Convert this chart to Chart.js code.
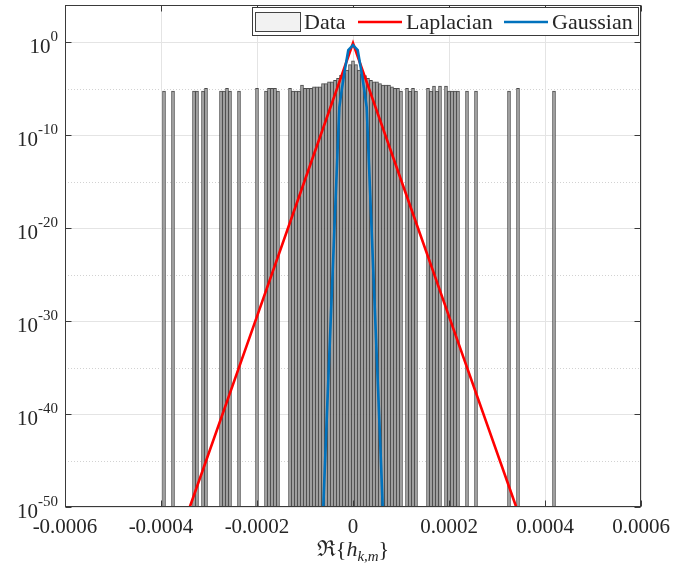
<!DOCTYPE html>
<html>
<head>
<meta charset="utf-8">
<script src="https://cdn.jsdelivr.net/npm/chart.js@4/dist/chart.umd.min.js"></script>
<style>
  html, body { margin: 0; padding: 0; background: #fff; }
</style>
</head>
<body>
<canvas id="histChart" width="696" height="564"></canvas>
<script>
// histogram of Re{h_km}: bin centres and normalised heights
var binCentres = [
  -393.75e-6, -375e-6, -331.25e-6, -325e-6, -312.5e-6, -306.25e-6,
  -275e-6, -268.75e-6, -262.5e-6, -256.25e-6, -237.5e-6, -200e-6,
  -181.25e-6, -175e-6, -168.75e-6, -162.5e-6, -156.25e-6,
  -131.25e-6, -125e-6, -118.75e-6, -112.5e-6, -106.25e-6, -100e-6,
  -93.75e-6, -87.5e-6, -81.25e-6, -75e-6, -68.75e-6, -62.5e-6,
  -56.25e-6, -50e-6, -43.75e-6, -37.5e-6, -31.25e-6, -25e-6,
  -18.75e-6, -12.5e-6, -6.25e-6, 0, 6.25e-6, 12.5e-6,
  18.75e-6, 25e-6, 31.25e-6, 37.5e-6, 43.75e-6, 50e-6,
  56.25e-6, 62.5e-6, 68.75e-6, 75e-6, 81.25e-6, 87.5e-6,
  93.75e-6, 100e-6, 112.5e-6, 118.75e-6, 125e-6, 131.25e-6,
  156.25e-6, 162.5e-6, 168.75e-6, 175e-6, 181.25e-6,
  193.75e-6, 200e-6, 206.25e-6, 212.5e-6, 218.75e-6,
  237.5e-6, 256.25e-6, 325e-6, 343.75e-6, 418.75e-6
];
var binHeights = [
  5.4e-6, 5.4e-6, 5.4e-6, 5.4e-6, 5.4e-6, 1.1e-5,
  5.4e-6, 5.4e-6, 1.1e-5, 5.4e-6, 5.4e-6, 1.1e-5,
  5.4e-6, 1.1e-5, 1.1e-5, 1.1e-5, 5.4e-6,
  1.1e-5, 5.4e-6, 5.4e-6, 5.4e-6, 2.4e-5, 1.1e-5,
  1.1e-5, 1.1e-5, 1.6e-5, 1.6e-5, 1.6e-5, 3.6e-5,
  3.6e-5, 5.4e-5, 5.4e-5, 7.9e-5, 1.3e-4, 2.8e-4,
  5e-4, 1e-3, 4e-3, 1e-2, 4e-3, 1e-3,
  4e-4, 2.5e-4, 1.3e-4, 7.9e-5, 5.4e-5, 5.4e-5,
  3.6e-5, 2.4e-5, 2.4e-5, 2.4e-5, 1.6e-5, 1.1e-5,
  1.1e-5, 5.4e-6, 1.1e-5, 5.4e-6, 1.1e-5, 5.4e-6,
  1.1e-5, 5.4e-6, 1.9e-5, 5.4e-6, 1.9e-5,
  1.9e-5, 5.4e-6, 5.4e-6, 5.4e-6, 5.4e-6,
  5.4e-6, 5.4e-6, 5.4e-6, 1.1e-5, 5.4e-6
];

// fitted Laplacian pdf
var laplaceX = [-340e-6, -200e-6, -100e-6, 0, 100e-6, 200e-6, 340e-6];
var laplaceY = [1e-50, 3.2e-30, 1.6e-15, 0.8, 1.6e-15, 3.2e-30, 1e-50];

// fitted Gaussian pdf
var gaussX = [-61.9e-6, -54.8e-6, -28.5e-6, -23.5e-6, -18.1e-6, -9.8e-6, 0,
              9.8e-6, 18.1e-6, 23.5e-6, 28.5e-6, 54.8e-6, 61.9e-6];
var gaussY = [1e-50, 2.5e-41, 1e-7, 6.9e-6, 4.7e-4, 0.138, 0.48,
              0.138, 4.7e-4, 6.9e-6, 1e-7, 2.5e-41, 1e-50];

// axis ticks
var xTicks = [-0.0006, -0.0004, -0.0002, 0, 0.0002, 0.0004, 0.0006];
var yMajorExp = [0, -10, -20, -30, -40, -50];
var yMinorExp = [-5, -15, -25, -35, -45];

var serif = '"Liberation Serif", "Times New Roman", "DejaVu Serif", serif';
var ink = '#262626';

function pairs(xs, ys) {
  return xs.map(function (x, i) { return { x: x, y: ys[i] }; });
}

function hline(ctx, x1, x2, y) {
  ctx.beginPath(); ctx.moveTo(x1, y); ctx.lineTo(x2, y); ctx.stroke();
}
function vline(ctx, x, y1, y2) {
  ctx.beginPath(); ctx.moveTo(x, y1); ctx.lineTo(x, y2); ctx.stroke();
}

// grid, box, log tick labels, axis title and legend in MATLAB style
var axesDecor = {
  id: 'axesDecor',
  beforeDatasetsDraw: function (chart) {
    var ctx = chart.ctx, a = chart.chartArea, xs = chart.scales.x, ys = chart.scales.y;
    ctx.save();
    ctx.lineWidth = 1;
    ctx.strokeStyle = '#d2d2d2';
    ctx.setLineDash([1, 2]);
    yMinorExp.forEach(function (e) {
      var py = Math.round(ys.getPixelForValue(Math.pow(10, e))) + 0.5;
      hline(ctx, a.left, a.right, py);
    });
    ctx.setLineDash([]);
    ctx.strokeStyle = '#e4e4e4';
    yMajorExp.forEach(function (e) {
      var py = Math.round(ys.getPixelForValue(Math.pow(10, e))) + 0.5;
      hline(ctx, a.left, a.right, py);
    });
    xTicks.forEach(function (v) {
      var px = Math.round(xs.getPixelForValue(v)) + 0.5;
      vline(ctx, px, a.top, a.bottom);
    });
    ctx.restore();
  },
  afterDraw: function (chart) {
    var ctx = chart.ctx, a = chart.chartArea, xs = chart.scales.x, ys = chart.scales.y;
    ctx.save();

    // axes box and inward ticks
    ctx.strokeStyle = '#3a3a3a';
    ctx.lineWidth = 1;
    var L = Math.round(a.left) + 0.5, R = Math.round(a.right) - 0.5;
    var T = Math.round(a.top) + 0.5, B = Math.round(a.bottom) - 0.5;
    ctx.strokeRect(L, T, R - L, B - T);
    yMajorExp.forEach(function (e) {
      var py = Math.round(ys.getPixelForValue(Math.pow(10, e))) + 0.5;
      hline(ctx, L, L + 6, py);
      hline(ctx, R - 6, R, py);
    });
    xTicks.forEach(function (v) {
      var px = Math.round(xs.getPixelForValue(v)) + 0.5;
      vline(ctx, px, T, T + 6);
      vline(ctx, px, B - 6, B);
    });

    // y labels 10^n
    ctx.fillStyle = ink;
    ctx.textAlign = 'left';
    ctx.textBaseline = 'alphabetic';
    yMajorExp.forEach(function (e) {
      var py = ys.getPixelForValue(Math.pow(10, e));
      var sup = String(e);
      ctx.font = '15px ' + serif;
      var wSup = ctx.measureText(sup).width;
      ctx.font = '21px ' + serif;
      var wBase = ctx.measureText('10').width;
      var x0 = 58 - wSup - wBase;
      ctx.fillText('10', x0, py + 11);
      ctx.font = '15px ' + serif;
      ctx.fillText(sup, x0 + wBase, py - 1);
    });

    // x axis title: Re{h_{k,m}}
    var parts = [
      { t: '\u211C{', f: '22px ' + serif, dy: 0 },
      { t: 'h', f: 'italic 22px ' + serif, dy: 0 },
      { t: 'k,m', f: 'italic 15px ' + serif, dy: 5 },
      { t: '}', f: '22px ' + serif, dy: 0 }
    ];
    var total = 0;
    parts.forEach(function (p) { ctx.font = p.f; p.w = ctx.measureText(p.t).width; total += p.w; });
    var cx = (a.left + a.right) / 2 - total / 2;
    parts.forEach(function (p) {
      ctx.font = p.f;
      ctx.fillText(p.t, cx, 556 + p.dy);
      cx += p.w;
    });

    // legend box
    var ds = chart.data.datasets;
    ctx.fillStyle = '#ffffff';
    ctx.fillRect(252.5, 7.5, 386, 28);
    ctx.strokeStyle = '#3a3a3a';
    ctx.strokeRect(252.5, 7.5, 386, 28);
    ctx.fillStyle = '#f2f2f2';
    ctx.fillRect(255.5, 12.5, 45, 19);
    ctx.strokeStyle = '#444';
    ctx.strokeRect(255.5, 12.5, 45, 19);
    ctx.lineWidth = 2.5;
    ctx.strokeStyle = ds[1].borderColor;
    hline(ctx, 358, 402, 22);
    ctx.strokeStyle = ds[2].borderColor;
    hline(ctx, 504, 548, 22);
    ctx.fillStyle = ink;
    ctx.font = '22px ' + serif;
    ctx.fillText(ds[0].label, 304, 29);
    ctx.fillText(ds[1].label, 406, 29);
    ctx.fillText(ds[2].label, 552, 29);

    ctx.restore();
  }
};

new Chart(document.getElementById('histChart').getContext('2d'), {
  type: 'bar',
  data: {
    datasets: [{
      type: 'bar',
      label: 'Data',
      data: pairs(binCentres, binHeights),
      backgroundColor: '#aaaaaa',
      borderColor: 'rgba(45,45,45,0.85)',
      borderWidth: 1,
      borderSkipped: false,
      barPercentage: 1,
      categoryPercentage: 1,
      order: 2
    }, {
      type: 'line',
      label: 'Laplacian',
      data: pairs(laplaceX, laplaceY),
      borderColor: '#ff0000',
      borderWidth: 2.6,
      pointRadius: 0,
      tension: 0,
      order: 1
    }, {
      type: 'line',
      label: 'Gaussian',
      data: pairs(gaussX, gaussY),
      borderColor: '#0072bd',
      borderWidth: 2.6,
      pointRadius: 0,
      tension: 0,
      order: 0
    }]
  },
  options: {
    responsive: false,
    animation: false,
    devicePixelRatio: 1,
    layout: { padding: { left: 0, right: 55, top: 5, bottom: 0 } },
    plugins: {
      legend: { display: false },
      tooltip: { enabled: false }
    },
    scales: {
      x: {
        type: 'linear',
        min: -0.0006,
        max: 0.0006,
        offset: false,
        grid: { display: false, drawTicks: false },
        border: { display: false },
        afterBuildTicks: function (s) {
          s.ticks = xTicks.map(function (v) { return { value: v }; });
        },
        afterFit: function (s) { s.height = 57; },
        ticks: {
          padding: 8,
          color: ink,
          font: { family: serif, size: 21 },
          maxRotation: 0,
          callback: function (v) {
            return Math.abs(v) < 1e-12 ? '0' : v.toFixed(4);
          }
        }
      },
      y: {
        type: 'logarithmic',
        min: 1e-50,
        max: 1e4,
        grid: { display: false },
        border: { display: false },
        afterBuildTicks: function (s) {
          s.ticks = yMajorExp.map(function (e) { return { value: Math.pow(10, e) }; });
        },
        afterFit: function (s) { s.width = 65; },
        ticks: { display: false }
      }
    }
  },
  plugins: [axesDecor]
});
</script>
</body>
</html>
